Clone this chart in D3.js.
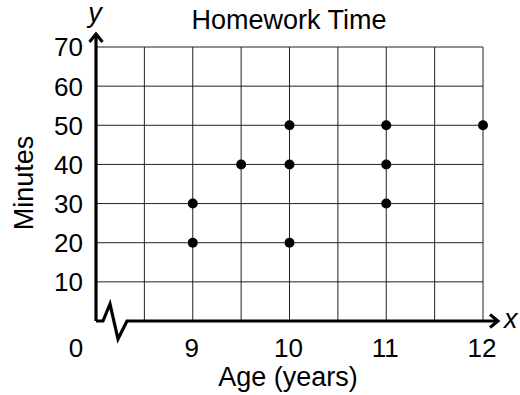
<!DOCTYPE html>
<html lang="en">
<head>
  <meta charset="UTF-8">
  <title>Homework Time</title>
  <script src="https://d3js.org/d3.v7.min.js"></script>
  <style>
    body, html { margin: 0; padding: 0; background: #fff; overflow: hidden; }
    svg { display: block; }
    text { font-family: "Liberation Sans", Arial, sans-serif; fill: #000; }
  </style>
</head>
<body>
  <svg width="520" height="395"></svg>
  <script>
    // data
    const ages = [9, 9, 9.5, 10, 10, 10, 11, 11, 11, 12];
    const minutes = [20, 30, 40, 20, 40, 50, 30, 40, 50, 50];
    const xTicks = [9, 10, 11, 12];
    const yTicks = [10, 20, 30, 40, 50, 60, 70];
    const xGrid = [8.5, 9, 9.5, 10, 10.5, 11, 11.5, 12];

    const svg = d3.select('svg');
    const x = d3.scaleLinear().domain([8, 12]).range([96, 483]);
    const y = d3.scaleLinear().domain([0, 70]).range([321, 47]);

    // grid
    const grid = svg.append('g').attr('stroke', '#222').attr('stroke-width', 1);
    grid.selectAll('line.v').data(xGrid).join('line')
      .attr('x1', d => x(d)).attr('x2', d => x(d))
      .attr('y1', y(0)).attr('y2', y(70));
    grid.selectAll('line.h').data(yTicks).join('line')
      .attr('x1', x(8)).attr('x2', x(12))
      .attr('y1', d => y(d)).attr('y2', d => y(d));

    // axes
    const ax = svg.append('g').attr('stroke', '#000').attr('stroke-width', 3.2)
      .attr('fill', 'none').attr('stroke-linejoin', 'miter');
    ax.append('path').attr('d', `M${x(8)},${y(0)} V35`);
    ax.append('path').attr('stroke-width', 3)
      .attr('d', `M${x(8) - 6.5},42 L${x(8)},34 L${x(8) + 6.5},42`);
    ax.append('path').attr('d',
      `M${x(8)},${y(0)} H103 L110,304 L118,339 L127,${y(0)} H496`);
    ax.append('path').attr('stroke-width', 3)
      .attr('d', `M490,${y(0) - 6.5} L498,${y(0)} L490,${y(0) + 6.5}`);

    // points
    svg.append('g').selectAll('circle').data(ages).join('circle')
      .attr('cx', d => x(d)).attr('cy', (d, i) => y(minutes[i]))
      .attr('r', 5).attr('fill', '#000');

    // tick labels
    svg.append('g').selectAll('text').data(yTicks).join('text')
      .attr('x', 83).attr('y', d => y(d)).attr('dy', '0.36em')
      .attr('text-anchor', 'end').attr('font-size', 26).text(d => d);
    svg.append('g').selectAll('text').data(xTicks).join('text')
      .attr('x', d => x(d) - 1).attr('y', 357)
      .attr('text-anchor', 'middle').attr('font-size', 26).text(d => d);
    svg.append('text').attr('x', 76).attr('y', 357)
      .attr('text-anchor', 'middle').attr('font-size', 26).text('0');

    // axis letters
    svg.append('text').attr('x', 95).attr('y', 22).attr('text-anchor', 'middle')
      .attr('font-size', 27).attr('font-style', 'italic').text('y');
    svg.append('text').attr('x', 504).attr('y', 328)
      .attr('font-size', 27).attr('font-style', 'italic').text('x');

    // titles
    svg.append('text').attr('x', 289).attr('y', 29).attr('text-anchor', 'middle')
      .attr('font-size', 27).text('Homework Time');
    svg.append('text').attr('x', 288).attr('y', 386).attr('text-anchor', 'middle')
      .attr('font-size', 27).text('Age (years)');
    svg.append('text').attr('transform', 'translate(33,183) rotate(-90)')
      .attr('text-anchor', 'middle').attr('font-size', 27).text('Minutes');
  </script>
</body>
</html>
